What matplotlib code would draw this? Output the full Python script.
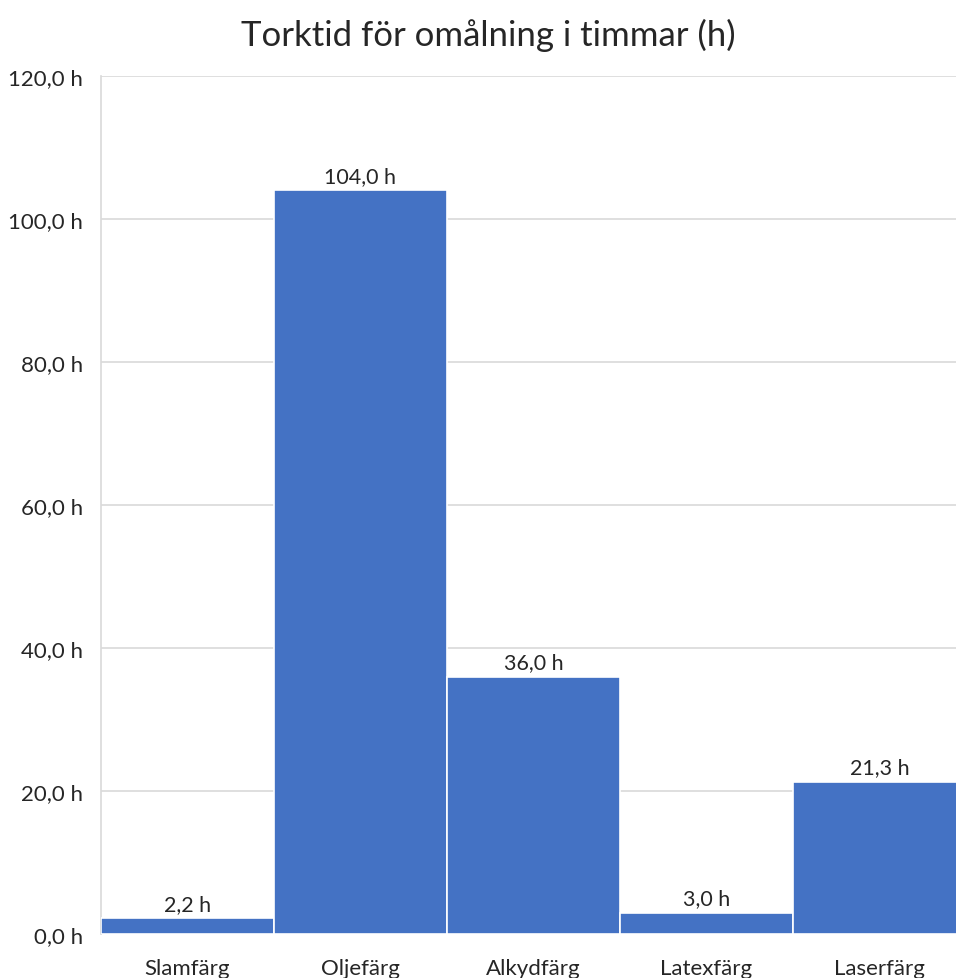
import matplotlib.pyplot as plt
import matplotlib.ticker as mticker
import numpy as np

plt.rcParams['font.family'] = ['Lato', 'DejaVu Sans']

# data
categories = ["Slamfärg", "Oljefärg", "Alkydfärg", "Latexfärg", "Laserfärg"]
hours = [2.2, 104.0, 36.0, 3.0, 21.3]
title = "Torktid för omålning i timmar (h)"

def fmt_h(v):
    return ("%.1f h" % v).replace(".", ",")

fig = plt.figure(figsize=(9.56, 9.79), dpi=100)
ax = fig.add_axes([101/956, 1 - 935/979, 865/956, (935 - 77)/979])

x = np.arange(len(categories))
bars = ax.bar(x, hours, width=1.0, color="#4472C4", edgecolor="white", linewidth=1.2, zorder=3)

for b, v in zip(bars, hours):
    ax.annotate(fmt_h(v), (b.get_x() + b.get_width()/2, v), xytext=(0, 3),
                textcoords="offset points", ha="center", va="bottom",
                fontsize=15.5, color="#262626")

ax.set_xlim(-0.5, len(categories) - 0.5)
ax.set_ylim(0, 120)
ax.yaxis.set_major_locator(mticker.MultipleLocator(20))
ax.yaxis.set_major_formatter(mticker.FuncFormatter(lambda v, p: fmt_h(v)))
ax.set_xticks(x)
ax.set_xticklabels(categories)
ax.tick_params(axis="y", length=0, pad=13, labelsize=16, labelcolor="#262626")
ax.tick_params(axis="x", length=0, pad=17, labelsize=16, labelcolor="#262626")
ax.grid(axis="y", color="#d9d9d9", linewidth=1.2, zorder=0)

for s in ["top", "right", "bottom"]:
    ax.spines[s].set_visible(False)
ax.spines["left"].set_color("#d9d9d9")
ax.spines["left"].set_linewidth(1.2)

fig.text(488/956, 1 - 35/979, title, ha="center", va="center", fontsize=25, color="#262626")

fig.savefig("out.png", dpi=100)
